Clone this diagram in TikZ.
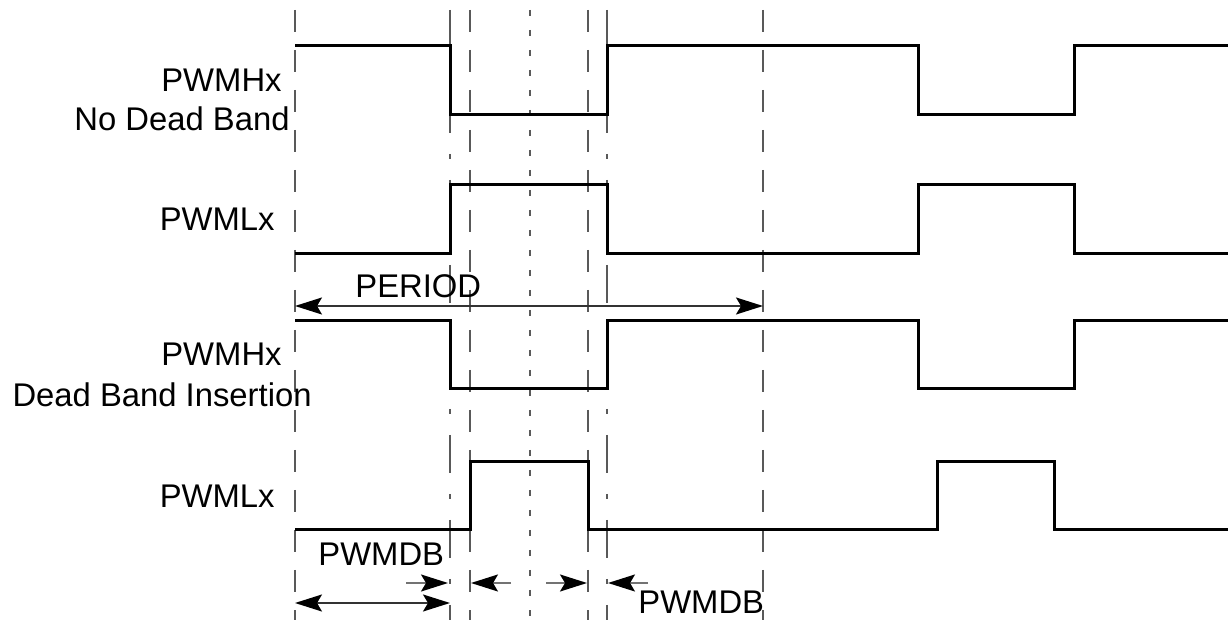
\documentclass[tikz,border=0pt]{standalone}
\usepackage{fontspec}
\setmainfont{Liberation Sans}
\usetikzlibrary{arrows.meta}

\begin{document}
\begin{tikzpicture}[
    x=0.5pt, y=-0.5pt,
    >={Stealth[length=13.5pt, width=8.5pt, inset=2.5pt, color=black]},
    wave/.style={line width=1.5pt, line join=miter, draw=black},
    guidelong/.style={line width=0.9pt, draw=black!65, dash pattern=on 11pt off 9pt},
    guidedashdot/.style={line width=0.9pt, draw=black!65,
      dash pattern=on 19pt off 10.5pt on 2.5pt off 10.5pt},
    guidedot/.style={line width=0.9pt, draw=black!65, dash pattern=on 3pt off 7pt},
    lbl/.style={inner sep=0pt, font=\fontsize{16.4}{19}\selectfont},
    dimline/.style={line width=0.9pt, draw=black!80, <->},
    pointer/.style={line width=0.9pt, draw=black!55, ->}
  ]
    \useasboundingbox (0,0) rectangle (1228,620);

    % timing guides
    \foreach \x in {295,470,588,763}
      \draw[guidelong] (\x,10) -- (\x,620);
    \foreach \x in {450,607}
      \draw[guidedashdot] (\x,10) -- (\x,620);
    \draw[guidedot] (530,10) -- (530,620);

    % waveforms
    \draw[wave] (295,46) -- (450,46) -- (450,115) -- (607,115) -- (607,46)
      -- (918,46) -- (918,115) -- (1074,115) -- (1074,46) -- (1228,46);
    \draw[wave] (295,254) -- (450,254) -- (450,185) -- (607,185) -- (607,254)
      -- (918,254) -- (918,185) -- (1074,185) -- (1074,254) -- (1228,254);
    \draw[wave] (295,321) -- (450,321) -- (450,389) -- (607,389) -- (607,321)
      -- (918,321) -- (918,389) -- (1074,389) -- (1074,321) -- (1228,321);
    \draw[wave] (295,530) -- (470,530) -- (470,462) -- (588,462) -- (588,530)
      -- (937,530) -- (937,462) -- (1054,462) -- (1054,530) -- (1228,530);

    % signal names
    \node[lbl, anchor=base east] (hnd) at (282,92) {PWMHx};
    \node[lbl, anchor=base east] (hndsub) at (290,131) {No Dead Band};
    \node[lbl, anchor=base east] (lnd) at (275,231) {PWMLx};
    \node[lbl, anchor=base east] (hdb) at (282,366) {PWMHx};
    \node[lbl, anchor=base east] (hdbsub) at (312,407) {Dead Band Insertion};
    \node[lbl, anchor=base east] (ldb) at (275,508) {PWMLx};

    % period
    \coordinate (perstart) at (295,306);
    \coordinate (perend) at (763,306);
    \node[lbl, anchor=base west] (period) at (355,298) {PERIOD};
    \draw[dimline] (perstart) -- (perend);

    % dead band
    \node[lbl, anchor=base west] (dbleft) at (318,566) {PWMDB};
    \node[lbl, anchor=base west] (dbright) at (638,613) {PWMDB};
    \coordinate (dbstart) at (295,603);
    \coordinate (dbend) at (450,603);
    \draw[dimline] (dbstart) -- (dbend);

    \coordinate (pa0) at (406,583);
    \coordinate (pa1) at (448,583);
    \coordinate (pb0) at (511,583);
    \coordinate (pb1) at (471,583);
    \coordinate (pc0) at (546,583);
    \coordinate (pc1) at (587,583);
    \coordinate (pd0) at (648,583);
    \coordinate (pd1) at (608,583);
    \draw[pointer] (pa0) -- (pa1);
    \draw[pointer] (pb0) -- (pb1);
    \draw[pointer] (pc0) -- (pc1);
    \draw[pointer] (pd0) -- (pd1);
  \end{tikzpicture}
\end{document}
